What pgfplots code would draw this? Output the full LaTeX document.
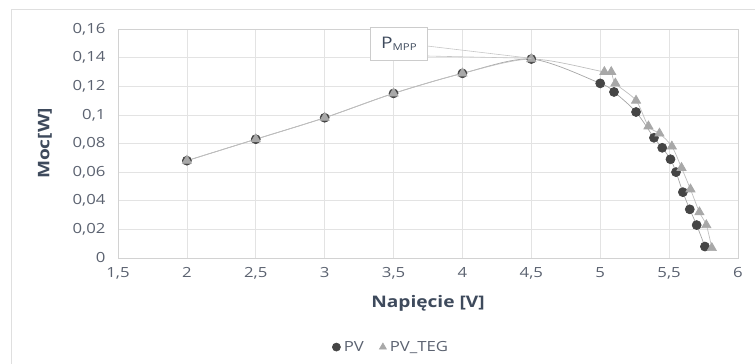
\documentclass[border=0pt]{standalone}
\usepackage{pgfplots}
\pgfplotsset{compat=1.18}
\usepackage{fontspec}
\setmainfont{Open Sans}[FakeStretch=1.2]
\definecolor{ticktxt}{HTML}{5B6270}
\definecolor{labtxt}{HTML}{3E4A5C}
\definecolor{pvc}{HTML}{454545}
\definecolor{tegc}{HTML}{A8A8A8}
\begin{document}
\begin{tikzpicture}
\useasboundingbox (0,0) rectangle (755bp,364bp);
\draw[draw=gray!25, line width=0.8bp] (11bp,0bp) -- (11bp,355bp) -- (755bp,355bp);
\begin{axis}[
  at={(118bp,106bp)}, anchor=south west,
  scale only axis, width=620bp, height=229bp,
  xmin=1.5, xmax=6, ymin=0, ymax=0.16,
  xtick={1.5,2,2.5,3,3.5,4,4.5,5,5.5,6},
  xticklabels={{1,5},2,{2,5},3,{3,5},4,{4,5},5,{5,5},6},
  ytick={0,0.02,0.04,0.06,0.08,0.1,0.12,0.14,0.16},
  yticklabels={0,{0,02},{0,04},{0,06},{0,08},{0,1},{0,12},{0,14},{0,16}},
  scaled y ticks=false,
  grid=major, grid style={draw=gray!22, line width=0.6bp},
  axis line style={draw=gray!35, line width=0.6bp},
  tick style={draw=none},
  ticklabel style={font=\fontsize{14}{16}\selectfont, text=ticktxt},
  xticklabel style={yshift=-6bp},
  yticklabel style={xshift=-9bp},
  xlabel={Napięcie [V]}, ylabel={Moc[W]},
  label style={font=\fontsize{16}{18}\selectfont\bfseries, text=labtxt},
  xlabel style={at={(rel axis cs:0.5,-0.196)}, anchor=center},
  ylabel style={at={(rel axis cs:-0.118,0.5)}, anchor=center},
  legend columns=2,
  legend style={at={(0.442,-0.389)}, anchor=center, draw=none, fill=none,
    font=\fontsize{14}{16}\selectfont, text=ticktxt,
    nodes={inner xsep=3.5bp},
    /tikz/every even column/.append style={column sep=12bp}},
  legend cell align=left,
  legend image code/.code={\draw[#1, draw=none, mark size=4bp] plot coordinates {(0.15cm,0cm)};},
]
\addplot[smooth, draw=gray!70, line width=0.7bp, mark=*, mark size=4.5bp,
  mark options={fill=pvc, draw=pvc}]
  coordinates {
  (2,0.068) (2.5,0.083) (3,0.098) (3.5,0.115) (4,0.129) (4.5,0.139)
  (5.0,0.122) (5.1,0.116) (5.26,0.102) (5.39,0.084) (5.45,0.077)
  (5.51,0.069) (5.55,0.060) (5.60,0.046) (5.65,0.034) (5.70,0.023) (5.76,0.008)
  };
\addlegendentry{PV}
\addplot[smooth, draw=gray!50, line width=0.7bp, mark=triangle*, mark size=5.3bp,
  mark options={fill=tegc, draw=tegc}]
  coordinates {
  (2,0.068) (2.5,0.083) (3,0.098) (3.5,0.115) (4,0.129) (4.5,0.139)
  (5.03,0.130) (5.08,0.130) (5.11,0.122) (5.26,0.110) (5.35,0.092)
  (5.43,0.087) (5.52,0.078) (5.59,0.063) (5.655,0.048) (5.72,0.032)
  (5.77,0.023) (5.81,0.007)
  };
\addlegendentry{PV\_TEG}
\coordinate (peak) at (axis cs:4.5,0.1395);
\end{axis}
\draw[gray!45, line width=0.6bp] (427bp,318bp) -- (peak);
\draw[gray!45, line width=0.6bp] (427bp,308bp) -- (peak);
\node[draw=gray!40, fill=white, line width=0.8bp, minimum width=57bp, minimum height=33bp,
  anchor=north west, inner sep=2bp, text=labtxt] at (370bp,337bp)
  {\fontsize{16}{19}\selectfont P\raisebox{-1.5bp}{\fontsize{9.5}{12}\selectfont MPP}};
\end{tikzpicture}
\end{document}
